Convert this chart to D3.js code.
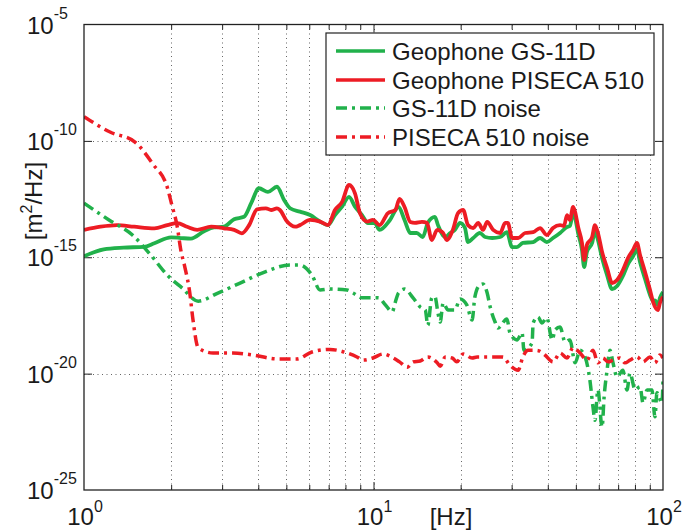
<!DOCTYPE html>
<html>
<head>
<meta charset="utf-8">
<script src="https://cdn.jsdelivr.net/npm/d3@7"></script>
<style>
  html, body { margin: 0; padding: 0; background: #fff; }
  svg { display: block; }
  text { font-family: "Liberation Sans", Arial, Helvetica, sans-serif; fill: #1a1a1a; }
</style>
</head>
<body>
<svg id="chart" width="694" height="531"></svg>
<script>
// ---------------- DATA ----------------
// Geophone GS-11D (solid green)
const gsFreq = [1.00,1.17,1.37,1.61,1.75,2.00,2.16,2.34,2.60,2.81,3.04,3.30,3.57,3.78,4.02,4.32,4.64,4.91,5.15,5.57,6.04,6.54,6.96,7.36,7.79,8.23,8.63,9.13,9.57,10.1,10.5,11.4,12.2,12.8,13.4,14.1,14.8,15.4,16.3,16.7,17.7,18.4,19.1,19.9,20.7,21.2,22.1,23.3,24.3,25.7,27.4,28.9,30.1,31.3,32.8,35.6,37.6,39.7,41.7,44.1,46.6,47.7,48.9,49.7,50.9,52.5,53.4,54.6,56.9,58.2,59.6,61.6,64.1,66.7,69.4,72.7,75.7,78.8,81.3,83.3,86.7,90.2,92.4,93.8,96.1,97.6,100];
const gsPsd = [1.1e-15,2.2e-15,2.6e-15,2.8e-15,4.0e-15,7.2e-15,6.7e-15,6.3e-15,1.3e-14,1.9e-14,2.05e-14,4.3e-14,5.5e-14,2.1e-13,9.2e-13,6.4e-13,1.07e-12,2.9e-13,1.27e-13,9.1e-14,6.5e-14,3.4e-14,2.4e-14,6.5e-14,1.5e-13,3.9e-13,1.5e-13,6.5e-14,2.9e-14,2.9e-14,1.5e-14,4.0e-14,1.44e-13,4.0e-14,1.1e-14,1.1e-14,7.4e-15,3.0e-14,5.4e-14,2.4e-14,7.4e-15,1.1e-14,1.5e-14,3.0e-14,1.8e-14,4.5e-15,6.7e-15,1.1e-14,7.4e-15,6.7e-15,7.4e-15,1.2e-14,2.75e-15,2.75e-15,4.1e-15,4.5e-15,6.7e-15,4.5e-15,6.7e-15,1.1e-14,2.0e-14,2.2e-14,8.0e-14,4.85e-14,1.1e-14,2.05e-15,3.8e-16,1.7e-15,4.1e-15,1.34e-14,5.5e-15,9.3e-16,1.7e-16,4.3e-17,5.8e-17,1.56e-16,5.1e-16,1.1e-15,2.2e-15,6.25e-16,1.16e-16,2.4e-17,1.3e-17,1.4e-17,8.9e-18,1.8e-17,3.2e-17];

// Geophone PISECA 510 (solid red)
const piFreq = [1.00,1.14,1.30,1.49,1.75,1.94,2.10,2.27,2.46,2.75,3.04,3.30,3.51,3.72,3.96,4.25,4.43,4.64,4.75,5.03,5.36,5.57,6.04,6.54,6.96,7.36,7.79,8.23,8.63,8.98,9.50,9.96,10.5,11.2,11.9,12.3,12.8,13.4,13.9,14.7,15.3,15.9,16.6,17.4,17.9,18.8,19.6,20.4,21.2,22.1,23.0,23.9,24.7,25.9,27.4,28.5,29.1,30.1,31.6,33.4,35.6,37.6,39.7,41.7,44.1,45.5,46.6,47.7,48.9,49.7,50.9,52.5,53.4,54.6,56.9,58.2,59.6,61.6,64.1,66.7,69.4,72.7,75.7,78.8,81.3,83.3,86.7,90.2,92.4,96.1,97.6,100];
const piPsd = [1.5e-14,2.05e-14,2.4e-14,2.05e-14,1.75e-14,2.4e-14,2.9e-14,2.05e-14,1.5e-14,2.05e-14,1.75e-14,1.5e-14,1.07e-14,2.4e-14,1.15e-13,1.27e-13,1.07e-13,1.27e-13,1.07e-13,3.4e-14,2.05e-14,2.4e-14,4.0e-14,3.4e-14,2.4e-14,1.07e-13,2.4e-13,1.27e-12,5.6e-13,7.7e-14,3.4e-14,4.0e-14,2.4e-14,7.7e-14,1.07e-13,3.2e-13,1.44e-13,3.3e-14,3.0e-14,3.3e-14,3.0e-14,5.5e-15,1.5e-14,1.1e-14,5.5e-15,1.5e-14,8.0e-14,1.07e-13,2.4e-14,1.8e-14,3.0e-14,1.5e-14,3.3e-14,1.5e-14,1.1e-14,3.0e-14,3.0e-14,6.7e-15,6.7e-15,1.1e-14,1.2e-14,1.8e-14,9.0e-15,1.8e-14,2.4e-14,2.2e-14,6.5e-14,4.0e-14,1.44e-13,8.8e-14,2.0e-14,4.1e-15,7.6e-16,3.4e-15,7.4e-15,2.4e-14,1.1e-14,1.7e-15,3.45e-16,7.8e-17,1.05e-16,2.8e-16,9.3e-16,2.05e-15,4.1e-15,1.25e-15,2.3e-16,3.9e-17,1.2e-17,5.4e-18,1.1e-17,2.0e-17];

// GS-11D noise (green dash-dot)
const gsNoiseFreq = [1.00,1.22,1.47,1.70,1.94,2.18,2.48,2.90,3.46,4.12,5.15,5.57,6.13,6.54,7.07,8.10,8.50,9.13,9.72,10.4,11.0,11.6,11.9,12.2,12.8,13.7,14.5,15.1,15.4,15.9,16.3,16.7,17.0,17.4,18.1,19.1,19.9,21.0,21.9,22.4,23.3,23.9,24.7,25.3,26.3,26.9,28.9,29.6,31.3,32.6,33.1,35.3,35.6,37.0,38.2,39.7,41.4,42.4,44.1,45.9,47.7,49.7,51.7,53.8,55.9,57.3,58.2,59.6,61.6,62.6,64.1,65.6,67.2,69.4,72.7,75.1,76.9,80.1,83.3,85.3,88.1,91.6,93.8,95.3,99.2,100];
const gsNoisePsd = [2.1e-13,4.0e-14,9.0e-15,1.25e-15,1.7e-16,4.8e-17,1.3e-17,2.9e-17,7.8e-17,2.1e-16,4.6e-16,4.6e-16,1.7e-16,3.9e-17,4.3e-17,3.9e-17,2.9e-17,1.8e-17,1.8e-17,1.8e-17,8.9e-18,4.5e-18,1.2e-17,2.9e-17,4.3e-17,1.8e-17,7.3e-18,5.4e-18,1.2e-18,1.8e-17,2.0e-17,4.0e-18,1.65e-18,1.1e-17,5.4e-18,5.4e-18,1.6e-17,8.9e-18,2.0e-18,2.0e-17,6.4e-17,7.1e-17,2.9e-17,7.3e-18,1.65e-18,9.1e-19,2.2e-18,5.6e-19,2.8e-19,5.6e-19,1.0e-19,2.1e-19,1.5e-18,2.7e-18,1.5e-18,2.5e-18,2.8e-19,7.5e-19,1.0e-18,2.3e-19,2.8e-19,2.9e-20,1.0e-19,5.2e-20,5.3e-21,3.7e-22,1.0e-22,2.0e-21,5.1e-23,9.9e-22,1.4e-20,1.0e-19,2.9e-20,7.2e-21,1.4e-20,2.0e-21,1.06e-20,2.0e-21,2.7e-21,5.5e-22,2.0e-21,2.0e-21,1.4e-22,1.5e-21,5.5e-22,5.3e-21];

// PISECA 510 noise (red dash-dot)
const piNoiseFreq = [1.00,1.23,1.50,1.73,1.94,2.01,2.10,2.16,2.23,2.32,2.38,2.48,2.79,3.27,3.84,4.64,5.44,6.13,7.07,8.10,8.77,9.20,9.96,10.8,11.7,12.3,13.1,13.7,14.5,15.4,16.6,17.0,17.7,18.7,19.4,20.4,21.9,22.8,24.7,28.0,29.6,31.6,32.8,34.2,36.7,39.1,41.7,44.1,46.6,48.9,51.7,54.6,57.3,59.6,62.0,64.6,67.2,71.0,73.9,76.9,81.3,85.3,90.2,93.8,97.6,100];
const piNoisePsd = [1.1e-9,2.4e-10,8.9e-11,1.0e-11,1.0e-12,1.8e-13,2.0e-14,2.0e-15,3.8e-16,2.9e-17,2.0e-18,1.3e-19,7.7e-20,7.7e-20,6.3e-20,4.3e-20,4.3e-20,8.5e-20,1.1e-19,7.7e-20,5.2e-20,3.8e-20,4.7e-20,7.0e-20,4.7e-20,3.2e-20,1.9e-20,3.2e-20,3.5e-20,5.2e-20,2.9e-20,2.1e-20,5.2e-20,4.7e-20,3.2e-20,7.0e-20,4.7e-20,5.2e-20,5.2e-20,5.2e-20,2.3e-20,1.4e-20,5.2e-20,1.0e-19,1.0e-19,6.3e-20,3.2e-20,7.7e-20,4.7e-20,1.3e-19,7.7e-20,3.8e-20,1.0e-19,2.9e-20,4.7e-20,3.2e-20,3.8e-20,4.7e-20,2.9e-20,3.8e-20,5.2e-20,3.2e-20,5.2e-20,2.9e-20,6.3e-20,4.7e-20];

// Axes / ticks
const xDomain = [1, 100];
const yDomain = [1e-25, 1e-5];
const xLabelTicks = [1, 10, 100];
const xLabelExps = ["0", "1", "2"];
const xMinorTicks = [2,3,4,5,6,7,8,9,20,30,40,50,60,70,80,90];
const yLabelTicks = [1e-5, 1e-10, 1e-15, 1e-20, 1e-25];
const yLabelExps = ["-5", "-10", "-15", "-20", "-25"];
const yGridTicks = [1e-10, 1e-15, 1e-20];
const xTitle = "[Hz]";
const legendLabels = ["Geophone GS-11D", "Geophone PISECA 510", "GS-11D noise", "PISECA 510 noise"];

// ---------------- DRAW ----------------
const GREEN = "#21b14b", RED = "#ed1c24";
const L = 84, R = 663, T = 24.5, B = 490;

const svg = d3.select("#chart");
const x = d3.scaleLog().domain(xDomain).range([L, R]);
const y = d3.scaleLog().domain(yDomain).range([B, T]);

// grid
const grid = svg.append("g").attr("stroke", "#555").attr("stroke-width", 0.9).attr("stroke-dasharray", "1,3.5");
grid.selectAll("line.vx").data(xMinorTicks.concat([10])).join("line")
  .attr("x1", d => Math.round(x(d)) + 0.5).attr("x2", d => Math.round(x(d)) + 0.5)
  .attr("y1", T).attr("y2", B);
grid.selectAll("line.hy").data(yGridTicks).join("line")
  .attr("y1", d => Math.round(y(d)) + 0.5).attr("y2", d => Math.round(y(d)) + 0.5)
  .attr("x1", L).attr("x2", R);

// axes ticks (inward)
function styleAxis(g) {
  g.select(".domain").remove();
  g.selectAll(".tick line").attr("stroke", "#222").attr("stroke-width", 1);
  g.selectAll(".tick text").remove();
}
svg.append("g").attr("transform", `translate(0,${B})`)
  .call(d3.axisBottom(x).tickValues(xMinorTicks).tickSize(-5).tickFormat(() => "")).call(styleAxis);
svg.append("g").attr("transform", `translate(0,${B})`)
  .call(d3.axisBottom(x).tickValues([10]).tickSize(-8).tickFormat(() => "")).call(styleAxis);
svg.append("g").attr("transform", `translate(0,${T})`)
  .call(d3.axisTop(x).tickValues(xMinorTicks).tickSize(-5).tickFormat(() => "")).call(styleAxis);
svg.append("g").attr("transform", `translate(0,${T})`)
  .call(d3.axisTop(x).tickValues([10]).tickSize(-8).tickFormat(() => "")).call(styleAxis);
svg.append("g").attr("transform", `translate(${L},0)`)
  .call(d3.axisLeft(y).tickValues(yGridTicks).tickSize(-8).tickFormat(() => "")).call(styleAxis);
svg.append("g").attr("transform", `translate(${R},0)`)
  .call(d3.axisRight(y).tickValues(yGridTicks).tickSize(-8).tickFormat(() => "")).call(styleAxis);

// series
const line = d3.line().x(d => x(d[0])).y(d => y(d[1])).curve(d3.curveMonotoneX);
const zip = (a, b) => a.map((v, i) => [v, b[i]]);
const series = [
  { f: gsFreq, p: gsPsd, color: GREEN, dash: null },
  { f: piFreq, p: piPsd, color: RED, dash: null },
  { f: gsNoiseFreq, p: gsNoisePsd, color: GREEN, dash: "11,5,3,5" },
  { f: piNoiseFreq, p: piNoisePsd, color: RED, dash: "11,5,3,5" }
];
svg.append("clipPath").attr("id", "clip").append("rect")
  .attr("x", L).attr("y", T).attr("width", R - L).attr("height", B - T);
const plot = svg.append("g").attr("clip-path", "url(#clip)");
series.forEach(s => {
  plot.append("path").datum(zip(s.f, s.p))
    .attr("d", line).attr("fill", "none")
    .attr("stroke", s.color).attr("stroke-width", s.dash ? 3.5 : 3.8)
    .attr("stroke-linejoin", "round")
    .attr("stroke-dasharray", s.dash);
});

// frame
svg.append("rect").attr("x", L).attr("y", T).attr("width", R - L).attr("height", B - T)
  .attr("fill", "none").attr("stroke", "#222").attr("stroke-width", 1.3);

// x tick labels
svg.selectAll("text.xl").data(xLabelTicks).join("text")
  .attr("class", "xl").attr("x", d => x(d) + 1).attr("y", 525)
  .attr("text-anchor", "middle").attr("font-size", 24)
  .each(function(d, i) {
    const t = d3.select(this);
    t.append("tspan").text("10");
    t.append("tspan").attr("dy", -13).attr("font-size", 16).text(xLabelExps[i]);
  });

// y tick labels
svg.selectAll("text.yl").data(yLabelTicks).join("text")
  .attr("class", "yl").attr("x", 27).attr("y", d => y(d) + 9)
  .attr("font-size", 24)
  .each(function(d, i) {
    const t = d3.select(this);
    t.append("tspan").text("10");
    t.append("tspan").attr("dy", -15).attr("font-size", 16).text(yLabelExps[i]);
  });

// axis titles
svg.append("text").attr("x", 451).attr("y", 525).attr("text-anchor", "middle")
  .attr("font-size", 24).text(xTitle);
const yt = svg.append("text").attr("transform", "translate(42,201) rotate(-90)")
  .attr("text-anchor", "middle").attr("font-size", 24);
yt.append("tspan").text("[m");
yt.append("tspan").attr("dy", -10).attr("font-size", 16).text("2");
yt.append("tspan").attr("dy", 10).text("/Hz]");

// legend
const lg = svg.append("g");
lg.append("rect").attr("x", 326).attr("y", 33).attr("width", 328).attr("height", 122)
  .attr("fill", "#fff").attr("stroke", "#222").attr("stroke-width", 1.2);
const rowY = [51, 80, 108, 137];
legendLabels.forEach((lab, i) => {
  lg.append("line").attr("x1", 336).attr("x2", 385).attr("y1", rowY[i]).attr("y2", rowY[i])
    .attr("stroke", series[i].color).attr("stroke-width", 3.5)
    .attr("stroke-dasharray", series[i].dash);
  lg.append("text").attr("x", 392).attr("y", rowY[i] + 8.5).attr("font-size", 24).text(lab);
});
</script>
</body>
</html>
